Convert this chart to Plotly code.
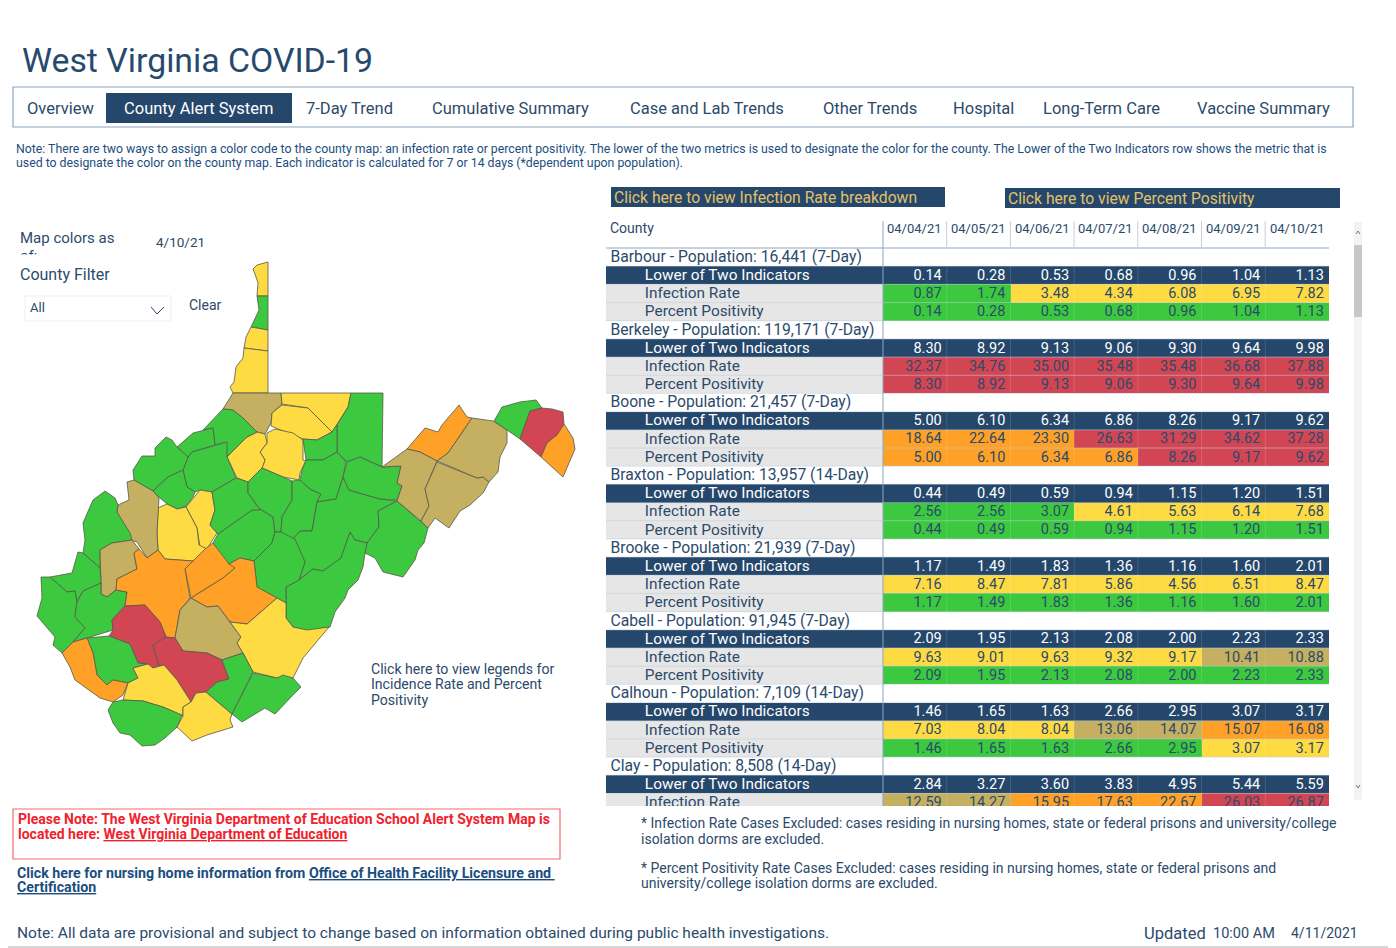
import plotly.graph_objects as go

NAVY = "#25476b"
TEXT = "#2b4a6c"
LINK = "#1b4e7e"
GRID = "#8ea4bf"
FONT = "Roboto"

# Table values
dates = ["04/04/21", "04/05/21", "04/06/21", "04/07/21", "04/08/21", "04/09/21", "04/10/21"]
counties = [
    "Barbour - Population: 16,441 (7-Day)",
    "Berkeley - Population: 119,171 (7-Day)",
    "Boone - Population: 21,457 (7-Day)",
    "Braxton - Population: 13,957 (14-Day)",
    "Brooke - Population: 21,939 (7-Day)",
    "Cabell - Population: 91,945 (7-Day)",
    "Calhoun - Population: 7,109 (14-Day)",
    "Clay - Population: 8,508 (14-Day)",
]
positivity = [
    [0.14, 0.28, 0.53, 0.68, 0.96, 1.04, 1.13],
    [8.30, 8.92, 9.13, 9.06, 9.30, 9.64, 9.98],
    [5.00, 6.10, 6.34, 6.86, 8.26, 9.17, 9.62],
    [0.44, 0.49, 0.59, 0.94, 1.15, 1.20, 1.51],
    [1.17, 1.49, 1.83, 1.36, 1.16, 1.60, 2.01],
    [2.09, 1.95, 2.13, 2.08, 2.00, 2.23, 2.33],
    [1.46, 1.65, 1.63, 2.66, 2.95, 3.07, 3.17],
    [2.84, 3.27, 3.60, 3.83, 4.95, 5.44, 5.59],
]
infection = [
    [0.87, 1.74, 3.48, 4.34, 6.08, 6.95, 7.82],
    [32.37, 34.76, 35.00, 35.48, 35.48, 36.68, 37.88],
    [18.64, 22.64, 23.30, 26.63, 31.29, 34.62, 37.28],
    [2.56, 2.56, 3.07, 4.61, 5.63, 6.14, 7.68],
    [7.16, 8.47, 7.81, 5.86, 4.56, 6.51, 8.47],
    [9.63, 9.01, 9.63, 9.32, 9.17, 10.41, 10.88],
    [7.03, 8.04, 8.04, 13.06, 14.07, 15.07, 16.08],
    [12.59, 14.27, 15.95, 17.63, 22.67, 26.03, 26.87],
]

# County outlines, as (colour key, x list, y list)
G, Y, T, O, R = "green", "yellow", "tan", "orange", "red"
map_counties = [
    (Y, [253,257,268,268,257,258,256], [269,265,262,296,296,283,277]),
    (G, [257,268,268,251,259], [296,296,330,327,310]),
    (Y, [251,268,268,244,246], [327,330,351,348,337]),
    (Y, [244,268,268,233,230,234,236,243], [348,351,393,393,387,382,367,358]),
    (T, [233,281,282,272,271,265,257,243,233,223], [393,393,404,413,423,434,432,418,410,409]),
    (Y, [281,351,348,337,332,308,282], [393,393,407,425,432,408,404]),
    (Y, [272,282,308,332,317,303,283,271], [413,405,408,432,440,439,431,426]),
    (Y, [267,275,293,303,303,306,300,299,283,262,265,260,267], [433,429,433,440,460,461,473,480,477,468,460,452,443]),
    (Y, [227,247,257,265,267,260,265,262,248,237], [457,437,432,434,443,452,460,468,482,478]),
    (G, [223,233,243,257,247,227,225,215,213,203], [409,410,418,432,437,457,442,445,428,430]),
    (G, [177,193,213,215,192,188], [447,433,428,445,452,457]),
    (G, [192,227,227,236,212,200,195,187,183,188], [452,442,457,478,492,490,492,487,470,457]),
    (G, [133,142,155,155,166,172,177,188,183,168,153,134], [470,456,456,448,437,440,447,457,470,477,491,480]),
    (G, [153,168,183,187,195,193,186,178,167,160], [491,477,470,487,492,497,506,509,504,498]),
    (Y, [186,200,212,215,210,217,207,200,197], [507,490,492,510,525,533,549,547,528]),
    (Y, [158,167,177,186,197,199,207,193,165,158,157], [508,504,509,507,528,545,549,561,559,550,533]),
    (T, [127,134,153,159,157,158,147,137,131,117,118,129], [482,480,491,498,533,550,558,542,540,512,505,500]),
    (G, [83,93,105,115,118,117,130,132,112,100,100,83,85], [523,500,491,498,505,512,533,540,543,550,568,553,540]),
    (T, [100,112,132,139,134,137,117,116,107,101,101], [550,543,540,549,553,569,579,590,597,594,583]),
    (G, [50,72,78,83,100,101,83,77,75,67], [577,573,552,553,568,583,591,602,591,592]),
    (G, [41,50,67,75,77,75,85,73,62,53,55,37,42], [577,577,592,591,602,617,628,642,653,645,637,616,598]),
    (G, [77,83,101,101,107,116,127,125,112,113,87,73,85,75], [602,591,583,594,597,590,592,605,620,630,638,642,628,617]),
    (O, [116,117,137,134,139,147,158,165,193,185,190,180,175,166,160,145,125,127], [590,579,569,553,549,558,550,559,561,569,598,610,638,637,622,605,606,592]),
    (O, [185,193,205,213,235,223,191], [569,561,549,543,568,578,598]),
    (G, [213,218,252,260,273,275,272,254,240,229], [543,534,510,509,517,532,543,561,558,564]),
    (G, [212,236,248,248,260,252,218,210,215], [492,478,482,493,510,510,534,525,510]),
    (G, [248,262,283,292,292,282,281,275,273,260,248], [482,468,477,481,500,517,532,532,517,509,493]),
    (G, [292,300,310,321,317,312,300,293,281,282,292], [481,480,489,494,502,531,531,539,532,517,500]),
    (G, [351,383,382,360,347,337,337,348], [393,393,467,457,462,452,425,407]),
    (G, [303,317,332,337,337,323,306], [439,440,432,425,452,460,460]),
    (G, [306,323,337,346,343,336,317,321,310,300,302], [460,460,452,462,477,499,502,494,489,480,470]),
    (G, [293,300,312,317,336,343,349,380,397,378,379,367,355,350,341,323,313,299,305], [539,531,531,502,499,477,490,499,501,511,527,543,540,532,558,571,569,580,562]),
    (G, [347,360,382,401,397,402,397,380,349,343], [462,457,467,466,483,486,500,499,490,477]),
    (G, [397,428,424,418,415,403,383,375,365,367,379,378], [501,528,543,550,560,577,572,558,553,543,527,511]),
    (G, [286,299,313,323,341,350,355,367,365,363,358,348,345,335,330,307,293,286], [587,580,569,571,558,532,540,543,553,567,580,590,598,612,627,631,627,618]),
    (G, [254,272,275,281,295,305,299,286,286,277,257], [561,543,532,532,539,562,580,587,603,598,587]),
    (O, [191,223,235,229,240,254,257,277,247,230,218,207], [598,578,568,564,558,561,587,598,624,622,606,607]),
    (T, [191,207,218,230,241,237,243,222,207,183,175,180], [598,607,606,622,637,643,653,660,653,651,638,610]),
    (Y, [230,247,277,286,286,293,307,329,303,293,277,253,243,237,241], [622,624,598,603,618,627,630,627,658,678,678,672,653,643,637]),
    (R, [125,145,160,166,153,159,153,148,138,130,109,113,112], [606,605,622,637,645,666,668,664,663,644,636,630,620]),
    (R, [153,166,175,183,207,222,229,217,206,196,191,177,164,159], [645,637,638,651,653,660,679,682,692,693,702,680,665,666]),
    (G, [87,109,130,138,148,133,138,128,113,107,97,93], [638,636,644,663,664,668,678,683,680,685,675,653]),
    (O, [62,73,87,93,97,107,113,128,123,113,100,75,70], [653,642,638,653,675,685,680,683,695,702,698,680,667]),
    (Y, [133,148,153,164,177,191,183,183,163,143,123,128,138], [668,664,668,665,680,702,707,716,707,701,700,683,678]),
    (G, [113,123,143,163,182,177,165,155,142,130,120,113,108], [702,700,701,707,715,727,738,745,746,735,733,723,710]),
    (Y, [183,191,196,206,232,230,233,207,192,177,183], [707,702,693,692,714,720,727,735,741,727,716]),
    (G, [206,217,229,222,243,253,232], [692,682,679,660,653,672,714]),
    (G, [232,253,277,283,293,301,293,275,265,242], [714,673,678,675,678,687,695,714,708,722]),
    (O, [407,425,438,442,459,467,472,457,448,437,420], [449,428,432,425,405,417,418,440,453,461,452]),
    (T, [382,407,420,437,425,429,421,397,402,397,401], [467,449,452,461,489,506,521,501,486,483,466]),
    (T, [437,477,483,489,483,470,460,449,435,428,421,429,425], [462,478,477,482,493,505,511,528,518,528,521,506,489]),
    (T, [437,448,457,472,493,507,507,500,498,489,483,477], [461,453,440,418,421,430,443,457,472,482,477,478]),
    (G, [494,502,520,536,542,530,520], [421,407,402,400,408,411,439]),
    (R, [520,530,542,552,563,564,557,547,541], [439,411,408,409,412,424,435,443,457]),
    (O, [541,547,557,564,573,575,563], [457,443,435,424,438,449,477]),
]
map_colors = {G: "#3dc93f", Y: "#fedb42", T: "#c4b060", O: "#fea126", R: "#d24654"}

tabs = [
    ("Overview", 27), ("7-Day Trend", 306), ("Cumulative Summary", 432),
    ("Case and Lab Trends", 630), ("Other Trends", 823), ("Hospital", 953),
    ("Long-Term Care", 1043), ("Vaccine Summary", 1197),
]


def infection_grade(v):
    # 3 green, 4 yellow, 5 tan, 6 orange, 7 red
    if v < 3.1:
        return 3
    if v < 10:
        return 4
    if v < 15:
        return 5
    if v < 25:
        return 6
    return 7


def positivity_grade(v):
    if v < 3:
        return 3
    if v < 5:
        return 4
    if v <= 8:
        return 6
    return 7


# Build the table rows: header, lower of two, infection, positivity
rows_z, row_labels = [], []
cell_x, cell_y, cell_text, cell_color = [], [], [], []
row = 0
for name, pos, inf in zip(counties, positivity, infection):
    rows = [
        (name, 0, None, None),
        ("Lower of Two Indicators", 1, pos, None),
        ("Infection Rate", 2, inf, infection_grade),
        ("Percent Positivity", 2, pos, positivity_grade),
    ]
    for label_text, kind, values, grader in rows:
        if grader is None:
            rows_z.append([kind] * 8)
        else:
            rows_z.append([kind] + [grader(v) for v in values])
        row_labels.append((row, label_text, kind))
        if values is not None:
            for c, v in enumerate(values):
                cell_x.append(c + 0.42)
                cell_y.append(row)
                cell_text.append(f"{v:.2f}")
                cell_color.append("white" if kind == 1 else TEXT)
        row += 1

# last county is cut off by the scroll area
rows_z = rows_z[:31]
row_labels = row_labels[:31]
keep = [i for i, y in enumerate(cell_y) if y <= 30]
cell_x = [cell_x[i] for i in keep]
cell_y = [cell_y[i] for i in keep]
cell_text = [cell_text[i] for i in keep]
cell_color = [cell_color[i] for i in keep]

palette = ["#ffffff", NAVY, "#e6e6e6", map_colors[G], map_colors[Y], map_colors[T], map_colors[O], map_colors[R]]
colorscale = []
for i, c in enumerate(palette):
    colorscale.append([i / 8, c])
    colorscale.append([(i + 1) / 8, c])

fig = go.Figure()

# Map
for key, xs, ys in map_counties:
    fig.add_trace(go.Scatter(
        x=xs + xs[:1], y=ys + ys[:1], mode="lines", fill="toself",
        fillcolor=map_colors[key], line=dict(color="#55584a", width=0.8),
        hoverinfo="skip", showlegend=False, xaxis="x", yaxis="y",
    ))

# Table
fig.add_trace(go.Heatmap(
    z=rows_z, x=[-4.85, -0.5, 0.5, 1.5, 2.5, 3.5, 4.5, 5.5, 6.5], y=list(range(31)),
    colorscale=colorscale, zmin=-0.5, zmax=7.5, showscale=False, hoverinfo="skip",
    xaxis="x2", yaxis="y2",
))
TEXT_DROP = 0.05  # rows read slightly low of centre
fig.add_trace(go.Scatter(
    x=cell_x, y=[y + TEXT_DROP for y in cell_y], text=cell_text, mode="text", textposition="middle left",
    textfont=dict(family=FONT, size=14.5, color=cell_color),
    hoverinfo="skip", showlegend=False, xaxis="x2", yaxis="y2",
))
fig.add_trace(go.Scatter(
    x=[-4.78 if k == 0 else -4.24 for _, _, k in row_labels],
    y=[r + TEXT_DROP for r, _, _ in row_labels],
    text=[t for _, t, _ in row_labels],
    mode="text", textposition="middle right",
    textfont=dict(family=FONT, size=[15.7 if k == 0 else 15.4 for _, _, k in row_labels],
                  color=["white" if k == 1 else TEXT for _, _, k in row_labels]),
    hoverinfo="skip", showlegend=False, xaxis="x2", yaxis="y2",
))

shapes = []


def rect(x0, y0, x1, y1, fill=None, line=None, width=1):
    shapes.append(dict(type="rect", x0=x0, y0=y0, x1=x1, y1=y1, xref="x", yref="y", layer="below",
                       fillcolor=fill, line=dict(color=line, width=width if line else 0)))


def seg(x0, y0, x1, y1, color=GRID, width=1, layer="above"):
    shapes.append(dict(type="line", x0=x0, y0=y0, x1=x1, y1=y1, xref="x", yref="y", layer=layer,
                       line=dict(color=color, width=width)))


rect(13, 87, 1353, 127, line=GRID, width=1.2)
rect(106, 93, 292, 123, fill=NAVY)
rect(611, 187, 945, 207, fill=NAVY)
rect(1005, 188, 1340, 208, fill=NAVY)
rect(25, 296, 171, 321, line="#eeeeee")
rect(13, 809, 560, 859, line="#f56a6a", width=1.2)
rect(1354, 222, 1362, 800, fill="#f3f3f3")
rect(1354, 245, 1362, 317, fill="#c8c8c8")
seg(606, 248, 1329, 248)
for i in range(1, 7):
    seg(883 + i * 63.7, 221, 883 + i * 63.7, 248, color="#c5d0dd")
# faint cell borders inside the table
for r in range(31):
    shapes.append(dict(type="line", xref="x2", yref="y2", x0=-4.85, x1=6.5, y0=r + 0.5, y1=r + 0.5,
                       line=dict(color="rgba(190,204,220,0.55)", width=1)))
for c in range(6):
    shapes.append(dict(type="line", xref="x2", yref="y2", x0=c + 0.5, x1=c + 0.5, y0=-0.5, y1=30.19,
                       line=dict(color="rgba(255,255,255,0.14)", width=1)))
seg(883, 221, 883, 806)
seg(151, 307, 157, 314, color=TEXT)
seg(157, 314, 164, 307, color=TEXT)
seg(1356, 234, 1358, 231, color="#777777")
seg(1358, 231, 1360, 234, color="#777777")
seg(1356, 785, 1358, 788, color="#777777")
seg(1358, 788, 1360, 785, color="#777777")
seg(8, 947, 1396, 947, color="#c8c8c8", width=1.5)

notes = []


def label(x, y, text, size=14, color=TEXT, anchor="left"):
    notes.append(dict(x=x - 2 if anchor == "left" else x, y=y, text=text, xref="x", yref="y", xanchor=anchor,
                      yanchor="middle", showarrow=False, font=dict(family=FONT, size=size, color=color)))


label(22, 60, "West Virginia COVID-19", 33.8, "#264a6e")
for text, x in tabs:
    label(x, 108, text, 16.5)
label(124, 108, "County Alert System", 16.5, "white")
label(16, 149, "Note: There are two ways to assign a color code to the county map: an infection rate or percent positivity. "
               "The lower of the two metrics is used to designate the color for the county. The Lower of the Two Indicators row shows the metric that is",
      12.3, LINK)
label(16, 163, "used to designate the color on the county map. Each indicator is calculated for 7 or 14 days (*dependent upon population).",
      12.3, LINK)
label(614, 197, "Click here to view Infection Rate breakdown", 15.7, "#e3c169")
label(1008, 198, "Click here to view Percent Positivity", 15.7, "#e3c169")
label(610, 228, "County", 14)
for i, d in enumerate(dates):
    label(883 + (i + 0.5) * 63.7, 228, d, 13, anchor="center")
label(20, 238, "Map colors as", 15)
label(20, 256, "of:", 15)
notes.append(dict(x=18, y=260, xref="x", yref="y", xanchor="left", yanchor="middle", text=" ", width=60, height=9,
                  bgcolor="white", showarrow=False))
label(156, 242, "4/10/21", 13.5)
label(20, 274, "County Filter", 16)
label(30, 307, "All", 13)
label(189, 305, "Clear", 14)
label(371, 669, "Click here to view legends for", 14.1)
label(371, 684, "Incidence Rate and Percent", 14.1)
label(371, 700, "Positivity", 14.1)
label(18, 819, "<b>Please Note: The West Virginia Department of Education School Alert System Map is</b>", 14, "#f0222e")
label(18, 834, "<b>located here: <u>West Virginia Department of Education</u></b>", 14, "#f0222e")
label(17, 873, "<b>Click here for nursing home information from <u>Office of Health Facility Licensure and </u></b>", 14.2, LINK)
label(17, 887, "<b><u>Certification</u></b>", 14.2, LINK)
label(641, 823, "* Infection Rate Cases Excluded: cases residing in nursing homes, state or federal prisons and university/college", 14)
label(641, 839, "isolation dorms are excluded.", 14)
label(641, 868, "* Percent Positivity Rate Cases Excluded: cases residing in nursing homes, state or federal prisons and", 14)
label(641, 883, "university/college isolation dorms are excluded.", 14)
label(17, 933, "Note: All data are provisional and subject to change based on information obtained during public health investigations.", 15.5)
label(1144, 933, "Updated", 16.5)
label(1213, 933, "10:00 AM", 14.5)
label(1291, 933, "4/11/2021", 14)

# the page body keeps its 8px margin, so the axes start at 8 to stay in picture pixels
hidden = dict(visible=False, fixedrange=True)
fig.update_layout(
    width=1388, height=940, margin=dict(l=0, r=0, t=0, b=0),
    paper_bgcolor="white", plot_bgcolor="rgba(0,0,0,0)",
    showlegend=False, shapes=shapes, annotations=notes,
    xaxis=dict(range=[8, 1396], domain=[0, 1], **hidden),
    yaxis=dict(range=[948, 8], domain=[0, 1], **hidden),
    xaxis2=dict(range=[-4.85, 6.5], domain=[(606 - 8) / 1388, (1329 - 8) / 1388], anchor="y2", **hidden),
    yaxis2=dict(range=[30.19, -0.5], domain=[1 - (806 - 8) / 940, 1 - (248 - 8) / 940], anchor="x2", **hidden),
)

fig.write_html("out.html")
